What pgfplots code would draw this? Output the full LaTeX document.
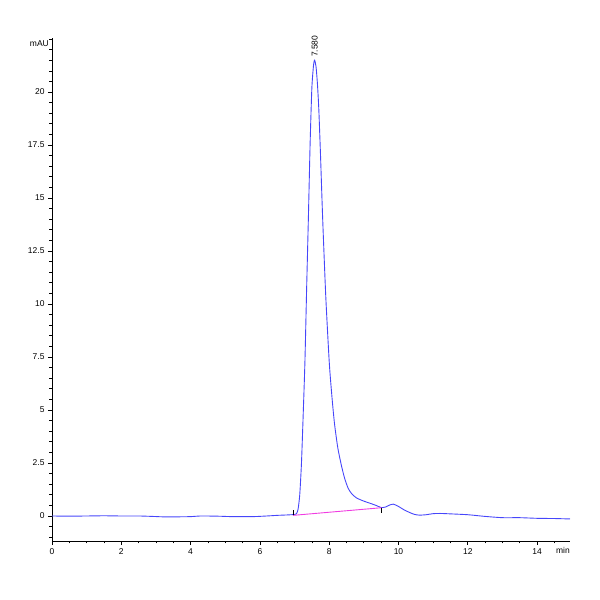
\documentclass[border=0pt]{standalone}
\usepackage{pgfplots}
\pgfplotsset{compat=1.18}
\usepackage{fontspec}
\setmainfont{Liberation Sans}
\definecolor{sig}{RGB}{70,70,250}
\definecolor{base}{RGB}{240,60,225}
\begin{document}
\begin{tikzpicture}
\useasboundingbox (0,0) rectangle (600bp,600bp);
\begin{axis}[
  at={(52bp,59bp)}, anchor=south west,
  width=518bp, height=503bp, scale only axis,
  xmin=0, xmax=14.95, ymin=-1.18, ymax=22.55,
  axis lines*=left,
  axis line style={black, line width=0.8pt},
  xtick={0,2,...,14}, minor xtick={0.5,1,...,14.5},
  ytick={0,2.5,5,7.5,10,12.5,15,17.5,20},
  yticklabels={0,2.5,5,7.5,10,12.5,15,17.5,20},
  minor ytick={-1,-0.5,...,22.5},
  tick align=outside,
  major tick length=4bp, minor tick length=2.5bp,
  tick style={black, line width=0.7pt},
  ticklabel style={font=\fontsize{8.5}{9}\selectfont},
  /pgf/number format/assume math mode=true,
  clip=false,
]
  % signal
  \addplot[sig, line width=0.9pt, mark=none, smooth, tension=0.4] coordinates {
    (0,0.0) (0.5,-0.01) (1,0.0) (1.5,0.01) (2,0.0) (2.5,0.0) (2.9,-0.02)
    (3.2,-0.04) (3.6,-0.04) (4.0,-0.03) (4.3,0.0) (4.8,-0.01) (5.2,-0.03)
    (5.8,-0.03) (6.2,0.0) (6.5,0.03) (6.8,0.05) (7.0,0.07) (7.05,0.1)
    (7.1,0.3) (7.15,1.0) (7.2,2.5) (7.25,4.8) (7.3,7.3) (7.35,10.8)
    (7.4,14.1) (7.45,17.6) (7.5,20.2) (7.55,21.3) (7.58,21.5) (7.62,21.2)
    (7.66,20.4) (7.7,19.2) (7.75,17.0) (7.81,14.1) (7.9,10.4) (8.0,7.3)
    (8.07,5.8) (8.15,4.4) (8.25,3.2) (8.36,2.33) (8.45,1.75) (8.55,1.3)
    (8.65,1.05) (8.79,0.85) (9.0,0.7) (9.18,0.6) (9.35,0.5) (9.5,0.4)
    (9.62,0.42) (9.72,0.5) (9.85,0.56) (10.0,0.45) (10.15,0.3) (10.3,0.18)
    (10.45,0.08) (10.6,0.04) (10.8,0.06) (11.0,0.11) (11.2,0.12)
    (11.5,0.1) (12.0,0.06) (12.5,-0.02) (13.0,-0.08) (13.5,-0.08)
    (14.0,-0.11) (14.5,-0.12) (14.95,-0.14)
  };
  % baseline
  \addplot[base, line width=0.9pt, mark=none] coordinates {(6.96,0.03) (9.51,0.39)};
  \draw[black, line width=0.5pt] (axis cs:6.96,0.03) -- (axis cs:6.96,0.28);
  \draw[black, line width=0.5pt] (axis cs:9.51,0.39) -- (axis cs:9.51,0.14);
  \node[rotate=90, anchor=west, inner sep=1pt, font=\fontsize{8.5}{9}\selectfont] at (axis cs:7.58,21.6) {7.580};
  \node[anchor=north east, inner sep=0pt, font=\fontsize{8.5}{9}\selectfont] at ([xshift=-3bp,yshift=-2bp]rel axis cs:0,1) {mAU};
  \node[anchor=north east, inner sep=0pt, font=\fontsize{8.5}{9}\selectfont] at ([yshift=-6bp]rel axis cs:1,0) {min};
\end{axis}
\end{tikzpicture}
\end{document}
